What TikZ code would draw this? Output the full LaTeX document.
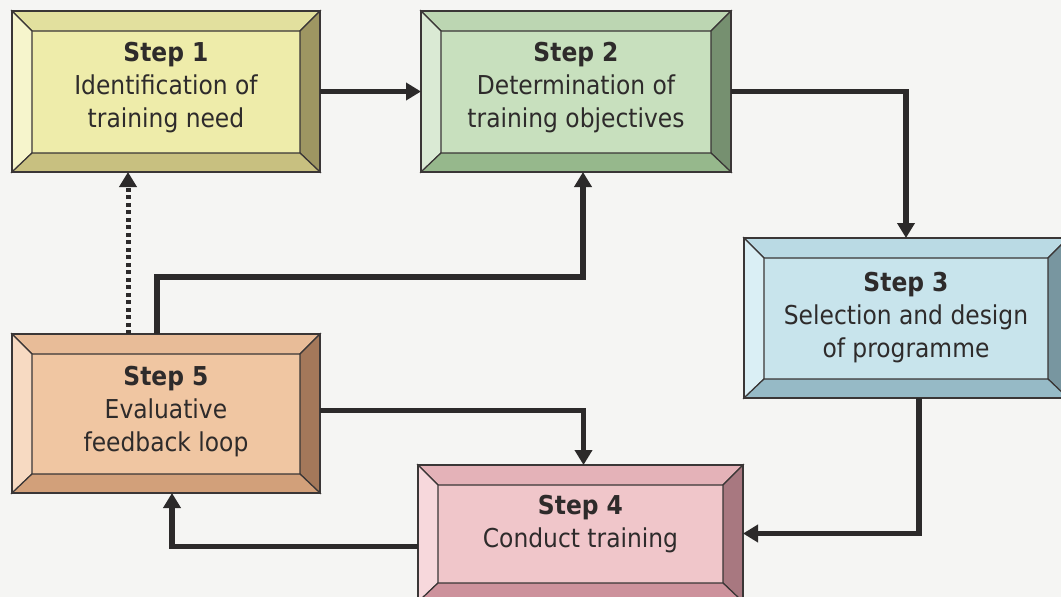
\documentclass[tikz,border=0pt]{standalone}
\usepackage{fontspec}
\setmainfont{DejaVu Sans Condensed}
\usetikzlibrary{arrows.meta,calc}

\definecolor{paper}{HTML}{F5F5F3}
\definecolor{edge}{HTML}{3A3636}
\definecolor{ink}{HTML}{2C2A2A}
\definecolor{textink}{HTML}{2E2B2B}
% yellow
\definecolor{aface}{RGB}{238,236,170}\definecolor{atop}{RGB}{226,224,158}
\definecolor{aleft}{RGB}{246,245,204}\definecolor{aright}{RGB}{158,150,98}
\definecolor{abot}{RGB}{200,192,128}
% green
\definecolor{bface}{RGB}{200,224,190}\definecolor{btop}{RGB}{188,214,178}
\definecolor{bleft}{RGB}{218,234,212}\definecolor{bright}{RGB}{118,144,112}
\definecolor{bbot}{RGB}{150,184,140}
% blue
\definecolor{cface}{RGB}{200,228,236}\definecolor{ctop}{RGB}{186,218,228}
\definecolor{cleft}{RGB}{218,239,245}\definecolor{cright}{RGB}{120,150,160}
\definecolor{cbot}{RGB}{150,186,198}
% pink
\definecolor{dface}{RGB}{240,198,202}\definecolor{dtop}{RGB}{228,178,184}
\definecolor{dleft}{RGB}{247,216,220}\definecolor{dright}{RGB}{168,120,128}
\definecolor{dbot}{RGB}{205,146,156}
% peach
\definecolor{eface}{RGB}{240,198,162}\definecolor{etop}{RGB}{232,188,152}
\definecolor{eleft}{RGB}{247,218,194}\definecolor{eright}{RGB}{164,120,90}
\definecolor{ebot}{RGB}{210,160,122}

\tikzset{
  stepbox/.style={draw=edge, line width=1.4pt, inner sep=0pt, outer sep=0pt},
  facet/.style={draw=edge, line width=1.2pt, line join=miter},
  steptext/.style={align=center, text=textink, inner sep=0pt,
    font=\fontsize{26}{33}\selectfont},
  conn/.style={draw=ink, line width=5.5pt, line join=miter,
    -{Triangle[width=17pt,length=15pt]}},
  dotconn/.style={draw=ink, line width=5pt, dash pattern=on 4pt off 3.5pt,
    -{Triangle[width=17pt,length=15pt]}},
}

% bevelled step box: name, x1, y1, x2, y2, colour letter, text, text shift
\newcommand\bevelstep[8]{%
  \pgfmathsetmacro\bxw{#4-#2}\pgfmathsetmacro\bxh{#5-#3}
  \node[stepbox, fill=#6face, minimum width=\bxw pt, minimum height=\bxh pt]
    (#1) at ({(#2+#4)/2},{(#3+#5)/2}) {};
  \filldraw[facet, fill=#6top] (#1.north west) -- (#1.north east)
    -- ([shift={(-20,20)}]#1.north east) -- ([shift={(20,20)}]#1.north west) -- cycle;
  \filldraw[facet, fill=#6left] (#1.north west) -- (#1.south west)
    -- ([shift={(20,-19)}]#1.south west) -- ([shift={(20,20)}]#1.north west) -- cycle;
  \filldraw[facet, fill=#6right] (#1.north east) -- (#1.south east)
    -- ([shift={(-20,-19)}]#1.south east) -- ([shift={(-20,20)}]#1.north east) -- cycle;
  \filldraw[facet, fill=#6bot] (#1.south west) -- (#1.south east)
    -- ([shift={(-20,-19)}]#1.south east) -- ([shift={(20,-19)}]#1.south west) -- cycle;
  \draw[stepbox] (#1.north west) rectangle (#1.south east);
  \node[steptext] (#1-text) at ([yshift=#8]#1.center) {#7};
}

\begin{document}
\begin{tikzpicture}[x=1pt,y=-1pt]
  \useasboundingbox (0,0) rectangle (1061,597);
  \clip (0,0) rectangle (1061,597);
  \fill[paper] (0,0) rectangle (1061,597);

  \bevelstep{s1}{12}{11}{320}{172}{a}{\textbf{Step 1}\\Identification of\\training need}{3.5pt}
  \bevelstep{s2}{421}{11}{731}{172}{b}{\textbf{Step 2}\\Determination of\\training objectives}{3.5pt}
  \bevelstep{s3}{744}{238}{1068}{398}{c}{\textbf{Step 3}\\Selection and design\\of programme}{0pt}
  \bevelstep{s4}{418}{465}{743}{602}{d}{\textbf{Step 4}\\Conduct training}{9pt}
  \bevelstep{s5}{12}{334}{320}{493}{e}{\textbf{Step 5}\\Evaluative\\feedback loop}{1.5pt}

  % main cycle
  \draw[conn] (s1.east) -- (s2.west);
  \draw[conn] (s2.east) -| (s3.north);
  \draw[conn] ([xshift=13pt]s3.south) |- (s4.east);
  \draw[conn] ([yshift=-13pt]s4.west) -| ([xshift=6pt]s5.south);
  \draw[conn] ([yshift=3pt]s5.east) -| ([xshift=3pt]s4.north);
  % feedback routes
  \coordinate (loop) at ($([xshift=-9pt]s5.north)+(0,-57)$);
  \draw[conn] ([xshift=-9pt]s5.north) -- (loop) -| ([xshift=7pt]s2.south);
  \draw[dotconn] ([xshift=-38pt]s5.north) -- ([xshift=-38pt]s1.south);
\end{tikzpicture}
\end{document}
